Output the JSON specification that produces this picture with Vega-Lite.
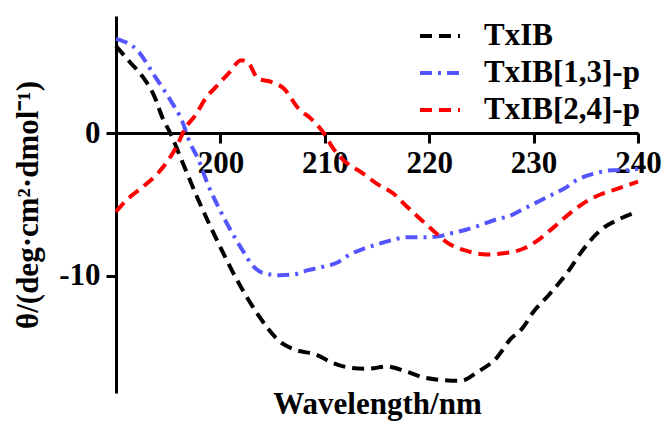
{
  "$schema": "https://vega.github.io/schema/vega-lite/v6.json",
  "autosize": "none",
  "padding": {"left": 116, "top": 16, "right": 24, "bottom": 30},
  "width": 522,
  "height": 377,
  "background": "white",
  "config": {
    "view": {"stroke": null},
    "font": "Liberation Serif"
  },
  "data": {
    "values": [
      {"s": "TxIB", "x": 190.0, "y": 6.1},
      {"s": "TxIB", "x": 191.3, "y": 5.0},
      {"s": "TxIB", "x": 192.6, "y": 3.9},
      {"s": "TxIB", "x": 193.6, "y": 2.7},
      {"s": "TxIB", "x": 194.5, "y": 1.0},
      {"s": "TxIB", "x": 195.2, "y": 0.0},
      {"s": "TxIB", "x": 196.4, "y": -2.1},
      {"s": "TxIB", "x": 197.9, "y": -4.7},
      {"s": "TxIB", "x": 200.0, "y": -8.0},
      {"s": "TxIB", "x": 201.6, "y": -10.3},
      {"s": "TxIB", "x": 203.5, "y": -12.6},
      {"s": "TxIB", "x": 205.7, "y": -14.6},
      {"s": "TxIB", "x": 207.3, "y": -15.2},
      {"s": "TxIB", "x": 209.1, "y": -15.5},
      {"s": "TxIB", "x": 210.8, "y": -16.1},
      {"s": "TxIB", "x": 212.6, "y": -16.45},
      {"s": "TxIB", "x": 214.2, "y": -16.5},
      {"s": "TxIB", "x": 215.9, "y": -16.35},
      {"s": "TxIB", "x": 217.8, "y": -16.7},
      {"s": "TxIB", "x": 219.4, "y": -17.1},
      {"s": "TxIB", "x": 221.4, "y": -17.3},
      {"s": "TxIB", "x": 223.0, "y": -17.35},
      {"s": "TxIB", "x": 224.7, "y": -16.7},
      {"s": "TxIB", "x": 226.5, "y": -15.7},
      {"s": "TxIB", "x": 227.7, "y": -14.5},
      {"s": "TxIB", "x": 229.0, "y": -13.6},
      {"s": "TxIB", "x": 229.9, "y": -12.6},
      {"s": "TxIB", "x": 231.5, "y": -11.3},
      {"s": "TxIB", "x": 233.2, "y": -9.8},
      {"s": "TxIB", "x": 234.7, "y": -8.2},
      {"s": "TxIB", "x": 236.4, "y": -6.8},
      {"s": "TxIB", "x": 238.0, "y": -6.1},
      {"s": "TxIB", "x": 240.0, "y": -5.5},
      {"s": "TxIB[1,3]-p", "x": 190.0, "y": 6.6},
      {"s": "TxIB[1,3]-p", "x": 192.1, "y": 5.75},
      {"s": "TxIB[1,3]-p", "x": 193.7, "y": 4.0},
      {"s": "TxIB[1,3]-p", "x": 195.3, "y": 2.2},
      {"s": "TxIB[1,3]-p", "x": 196.3, "y": 0.9},
      {"s": "TxIB[1,3]-p", "x": 197.1, "y": -0.7},
      {"s": "TxIB[1,3]-p", "x": 197.8, "y": -1.7},
      {"s": "TxIB[1,3]-p", "x": 198.8, "y": -3.6},
      {"s": "TxIB[1,3]-p", "x": 200.1, "y": -5.6},
      {"s": "TxIB[1,3]-p", "x": 200.9, "y": -6.7},
      {"s": "TxIB[1,3]-p", "x": 202.2, "y": -8.3},
      {"s": "TxIB[1,3]-p", "x": 203.0, "y": -9.2},
      {"s": "TxIB[1,3]-p", "x": 204.1, "y": -9.8},
      {"s": "TxIB[1,3]-p", "x": 205.7, "y": -9.95},
      {"s": "TxIB[1,3]-p", "x": 207.0, "y": -9.9},
      {"s": "TxIB[1,3]-p", "x": 208.4, "y": -9.6},
      {"s": "TxIB[1,3]-p", "x": 209.9, "y": -9.35},
      {"s": "TxIB[1,3]-p", "x": 211.1, "y": -9.1},
      {"s": "TxIB[1,3]-p", "x": 212.4, "y": -8.5},
      {"s": "TxIB[1,3]-p", "x": 213.7, "y": -8.1},
      {"s": "TxIB[1,3]-p", "x": 215.0, "y": -7.8},
      {"s": "TxIB[1,3]-p", "x": 216.4, "y": -7.5},
      {"s": "TxIB[1,3]-p", "x": 217.8, "y": -7.3},
      {"s": "TxIB[1,3]-p", "x": 219.3, "y": -7.3},
      {"s": "TxIB[1,3]-p", "x": 220.7, "y": -7.25},
      {"s": "TxIB[1,3]-p", "x": 222.2, "y": -7.0},
      {"s": "TxIB[1,3]-p", "x": 223.6, "y": -6.75},
      {"s": "TxIB[1,3]-p", "x": 224.9, "y": -6.45},
      {"s": "TxIB[1,3]-p", "x": 226.4, "y": -6.05},
      {"s": "TxIB[1,3]-p", "x": 227.7, "y": -5.8},
      {"s": "TxIB[1,3]-p", "x": 228.8, "y": -5.4},
      {"s": "TxIB[1,3]-p", "x": 230.3, "y": -4.85},
      {"s": "TxIB[1,3]-p", "x": 231.8, "y": -4.3},
      {"s": "TxIB[1,3]-p", "x": 232.9, "y": -3.9},
      {"s": "TxIB[1,3]-p", "x": 234.1, "y": -3.3},
      {"s": "TxIB[1,3]-p", "x": 236.0, "y": -2.8},
      {"s": "TxIB[1,3]-p", "x": 237.6, "y": -2.6},
      {"s": "TxIB[1,3]-p", "x": 238.9, "y": -2.6},
      {"s": "TxIB[1,3]-p", "x": 240.0, "y": -2.5},
      {"s": "TxIB[2,4]-p", "x": 190.0, "y": -5.5},
      {"s": "TxIB[2,4]-p", "x": 191.0, "y": -4.7},
      {"s": "TxIB[2,4]-p", "x": 192.6, "y": -3.75},
      {"s": "TxIB[2,4]-p", "x": 193.9, "y": -2.9},
      {"s": "TxIB[2,4]-p", "x": 195.0, "y": -1.9},
      {"s": "TxIB[2,4]-p", "x": 195.8, "y": -0.95},
      {"s": "TxIB[2,4]-p", "x": 196.6, "y": 0.3},
      {"s": "TxIB[2,4]-p", "x": 197.6, "y": 1.25},
      {"s": "TxIB[2,4]-p", "x": 198.7, "y": 2.55},
      {"s": "TxIB[2,4]-p", "x": 199.6, "y": 3.25},
      {"s": "TxIB[2,4]-p", "x": 200.8, "y": 4.2},
      {"s": "TxIB[2,4]-p", "x": 202.0, "y": 5.1},
      {"s": "TxIB[2,4]-p", "x": 202.7, "y": 4.9},
      {"s": "TxIB[2,4]-p", "x": 203.6, "y": 3.8},
      {"s": "TxIB[2,4]-p", "x": 204.8, "y": 3.6},
      {"s": "TxIB[2,4]-p", "x": 206.1, "y": 3.1},
      {"s": "TxIB[2,4]-p", "x": 207.5, "y": 1.7},
      {"s": "TxIB[2,4]-p", "x": 208.7, "y": 1.0},
      {"s": "TxIB[2,4]-p", "x": 209.9, "y": 0.0},
      {"s": "TxIB[2,4]-p", "x": 210.8, "y": -1.07},
      {"s": "TxIB[2,4]-p", "x": 212.1, "y": -2.1},
      {"s": "TxIB[2,4]-p", "x": 213.4, "y": -2.7},
      {"s": "TxIB[2,4]-p", "x": 215.0, "y": -3.55},
      {"s": "TxIB[2,4]-p", "x": 216.6, "y": -4.25},
      {"s": "TxIB[2,4]-p", "x": 217.8, "y": -5.1},
      {"s": "TxIB[2,4]-p", "x": 219.2, "y": -6.05},
      {"s": "TxIB[2,4]-p", "x": 220.5, "y": -6.9},
      {"s": "TxIB[2,4]-p", "x": 221.8, "y": -7.7},
      {"s": "TxIB[2,4]-p", "x": 223.6, "y": -8.25},
      {"s": "TxIB[2,4]-p", "x": 225.5, "y": -8.5},
      {"s": "TxIB[2,4]-p", "x": 227.3, "y": -8.4},
      {"s": "TxIB[2,4]-p", "x": 229.0, "y": -8.1},
      {"s": "TxIB[2,4]-p", "x": 230.6, "y": -7.4},
      {"s": "TxIB[2,4]-p", "x": 232.0, "y": -6.55},
      {"s": "TxIB[2,4]-p", "x": 233.5, "y": -5.6},
      {"s": "TxIB[2,4]-p", "x": 234.8, "y": -4.9},
      {"s": "TxIB[2,4]-p", "x": 236.4, "y": -4.3},
      {"s": "TxIB[2,4]-p", "x": 238.0, "y": -3.9},
      {"s": "TxIB[2,4]-p", "x": 240.0, "y": -3.4}
    ]
  },
  "mark": {"type": "line", "interpolate": "monotone", "strokeWidth": 4, "clip": false},
  "encoding": {
    "x": {
      "field": "x", "type": "quantitative",
      "scale": {"domain": [190, 240], "nice": false, "zero": false},
      "axis": {
        "orient": "bottom", "offset": -260,
        "values": [200, 210, 220, 230, 240],
        "grid": false,
        "domainColor": "black", "domainWidth": 3,
        "tickColor": "black", "tickWidth": 3, "tickSize": 10,
        "labelFont": "Liberation Serif", "labelFontSize": 31, "labelFontWeight": "bold", "labelColor": "black",
        "labelPadding": 5, "labelFlush": false, "labelOverlap": false,
        "title": "Wavelength/nm",
        "titleFont": "Liberation Serif", "titleFontSize": 31, "titleFontWeight": "bold", "titleColor": "black",
        "titleBaseline": "alphabetic", "titleY": 280
      }
    },
    "y": {
      "field": "y", "type": "quantitative",
      "scale": {"domain": [-18.2, 8.2], "nice": false, "zero": false},
      "axis": {
        "values": [0, -10],
        "labelExpr": "'' + datum.value",
        "grid": false,
        "domainColor": "black", "domainWidth": 3,
        "tickColor": "black", "tickWidth": 3, "tickSize": 10,
        "labelFont": "Liberation Serif", "labelFontSize": 31, "labelFontWeight": "bold", "labelColor": "black",
        "labelPadding": 6,
        "title": "θ/(deg·cm²·dmol⁻¹)",
        "titleFont": "Liberation Serif", "titleFontSize": 31, "titleFontWeight": "bold", "titleColor": "black",
        "titlePadding": 14
      }
    },
    "color": {
      "field": "s", "type": "nominal",
      "scale": {"domain": ["TxIB", "TxIB[1,3]-p", "TxIB[2,4]-p"], "range": ["#000000", "#5555FF", "#FF0000"]},
      "legend": {
        "orient": "none", "legendX": 302, "legendY": -2,
        "title": null,
        "symbolType": "stroke", "symbolSize": 1600, "symbolStrokeWidth": 4,
        "labelFont": "Liberation Serif", "labelFontSize": 31, "labelFontWeight": "bold", "labelColor": "black",
        "labelOffset": 22, "rowPadding": -10, "padding": 0, "labelLimit": 400
      }
    },
    "strokeDash": {
      "field": "s", "type": "nominal",
      "scale": {"domain": ["TxIB", "TxIB[1,3]-p", "TxIB[2,4]-p"], "range": [[12, 7], [12, 6, 3, 6], [12, 7]]},
      "legend": null
    }
  }
}
